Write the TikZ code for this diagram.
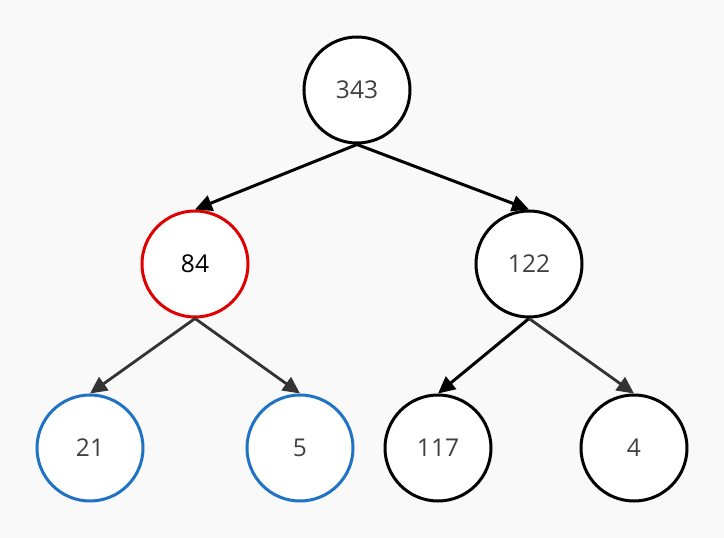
\documentclass[tikz,border=0pt]{standalone}
\usepackage{fontspec}
\setmainfont{Open Sans}
\usetikzlibrary{arrows.meta}
\definecolor{bg}{HTML}{F9F9F9}
\definecolor{txt}{HTML}{404040}
\definecolor{edgegrey}{HTML}{333333}
\definecolor{redb}{HTML}{E00000}
\definecolor{blueb}{HTML}{1F72C4}
\tikzset{
  tn/.style={draw=black, fill=white, line width=3pt, circle,
    minimum size=106pt, inner sep=0pt, text=txt,
    font=\fontsize{24.5pt}{28pt}\selectfont},
  rednode/.style={tn, draw=redb, text=black},
  bluenode/.style={tn, draw=blueb},
  edgeb/.style={line width=3pt, draw=black, -{Triangle[length=17pt,width=16pt]}},
  edgeg/.style={line width=2.8pt, draw=edgegrey, -{Triangle[length=17pt,width=16pt]}},
}
\begin{document}
\begin{tikzpicture}[x=1pt,y=-1pt]
\fill[bg] (0,0) rectangle (724,538);
\useasboundingbox (0,0) rectangle (724,538);
\node[tn] (n343) at (357,90) {343};
\node[rednode] (n84) at (195,264) {84};
\node[tn] (n122) at (529,264) {122};
\node[bluenode] (n21) at (90,448) {21};
\node[bluenode] (n5) at (300,448) {5};
\node[tn] (n117) at (438,448) {117};
\node[tn] (n4) at (634,448) {4};
\draw[edgeb] (n343.south) -- (n84.north);
\draw[edgeb] (n343.south) -- (n122.north);
\draw[edgeg] (n84.south) -- (n21.north);
\draw[edgeg] (n84.south) -- (n5.north);
\draw[edgeb] (n122.south) -- (n117.north);
\draw[edgeg] (n122.south) -- (n4.north);
\end{tikzpicture}
\end{document}
